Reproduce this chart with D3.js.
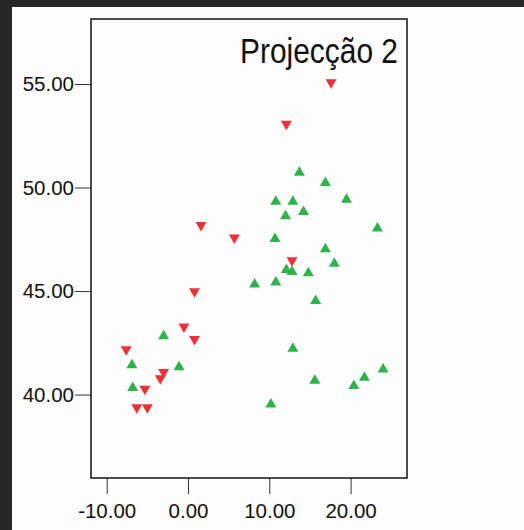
<!DOCTYPE html>
<html>
<head>
<meta charset="utf-8">
<script src="https://cdn.jsdelivr.net/npm/d3@7"></script>
<style>
  html, body { margin: 0; padding: 0; background: #272727; }
  svg { display: block; }
</style>
</head>
<body>
<script>
// Group 1 (red, downward triangles)
const group1X = [17.6, 12.1, 1.6, 5.7, 12.8, 0.8, -0.5, 0.8, -7.6, -3.0, -3.4, -5.3, -6.3, -5.0];
const group1Y = [55.0, 53.0, 48.1, 47.5, 46.4, 44.9, 43.2, 42.6, 42.1, 41.0, 40.7, 40.2, 39.3, 39.3];

// Group 2 (green, upward triangles)
const group2X = [13.7, 16.9, 10.8, 12.9, 19.5, 12.0, 14.2, 23.3, 10.7, 16.9, 12.1, 12.8, 14.8, 18.0,
                 8.2, 10.8, 15.7, 12.9, 24.0, 21.7, 20.4, 15.6, 10.2, -3.0, -6.9, -1.1, -6.8];
const group2Y = [50.8, 50.3, 49.4, 49.4, 49.5, 48.7, 48.9, 48.1, 47.6, 47.1, 46.1, 46.0, 45.95, 46.4,
                 45.4, 45.5, 44.6, 42.3, 41.3, 40.9, 40.5, 40.75, 39.6, 42.9, 41.5, 41.4, 40.4];

const xTicks = [-10, 0, 10, 20];
const yTicks = [40, 45, 50, 55];
const title = "Projecção 2";

const W = 524, H = 530;
const frame = { left: 91, top: 19, right: 407, bottom: 478 };

const svg = d3.select("body").append("svg").attr("width", W).attr("height", H);

// page background: dark margin, white sheet
svg.append("rect").attr("width", W).attr("height", H).attr("fill", "#272727");
svg.append("rect").attr("x", 12).attr("y", 7).attr("width", W - 12).attr("height", H - 7).attr("fill", "#fdfdfd");

const x = d3.scaleLinear().domain([-11.93, 26.94]).range([frame.left, frame.right]);
const y = d3.scaleLinear().domain([35.97, 58.14]).range([frame.bottom, frame.top]);

// two decimals, plain hyphen for negatives
const fmt = d3.formatLocale({ decimal: ".", thousands: ",", grouping: [3], currency: ["", ""], minus: "-" }).format(".2f");
const tickFont = "'Liberation Sans', Arial, sans-serif";

const xAxis = svg.append("g")
  .attr("transform", `translate(0,${frame.bottom})`)
  .call(d3.axisBottom(x).tickValues(xTicks).tickFormat(fmt).tickSize(16).tickPadding(9).tickSizeOuter(0));
const yAxis = svg.append("g")
  .attr("transform", `translate(${frame.left},0)`)
  .call(d3.axisLeft(y).tickValues(yTicks).tickFormat(fmt).tickSize(16).tickPadding(1).tickSizeOuter(0));

[xAxis, yAxis].forEach(g => {
  g.select(".domain").remove();
  g.selectAll(".tick line").attr("stroke", "#333").attr("stroke-width", 1);
  g.selectAll(".tick text").attr("fill", "#111").style("font-family", tickFont).style("font-size", "20.5px");
});

// plot frame
svg.append("rect")
  .attr("x", frame.left).attr("y", frame.top)
  .attr("width", frame.right - frame.left).attr("height", frame.bottom - frame.top)
  .attr("fill", "none").attr("stroke", "#111").attr("stroke-width", 1.5);

// title in the top-right corner of the frame
svg.append("text")
  .attr("x", 398).attr("y", 63)
  .attr("text-anchor", "end")
  .attr("textLength", 158).attr("lengthAdjust", "spacingAndGlyphs")
  .style("font-family", "'Liberation Sans Narrow', 'Arial Narrow', 'Liberation Sans', Arial, sans-serif")
  .style("font-stretch", "condensed")
  .style("font-size", "35px")
  .attr("fill", "#111")
  .text(title);

// triangle markers, centred on their bounding box
const side = 11, ht = 9.5;
const upPath = `M0,${-ht / 2}L${side / 2},${ht / 2}L${-side / 2},${ht / 2}Z`;
const downPath = `M0,${ht / 2}L${side / 2},${-ht / 2}L${-side / 2},${-ht / 2}Z`;

const g2 = group2X.map((v, i) => ({ x: v, y: group2Y[i] }));
const g1 = group1X.map((v, i) => ({ x: v, y: group1Y[i] }));

svg.append("g").selectAll("path").data(g2).join("path")
  .attr("d", upPath)
  .attr("transform", d => `translate(${x(d.x)},${y(d.y)})`)
  .attr("fill", "#2db34a");

svg.append("g").selectAll("path").data(g1).join("path")
  .attr("d", downPath)
  .attr("transform", d => `translate(${x(d.x)},${y(d.y)})`)
  .attr("fill", "#eb3239");
</script>
</body>
</html>
